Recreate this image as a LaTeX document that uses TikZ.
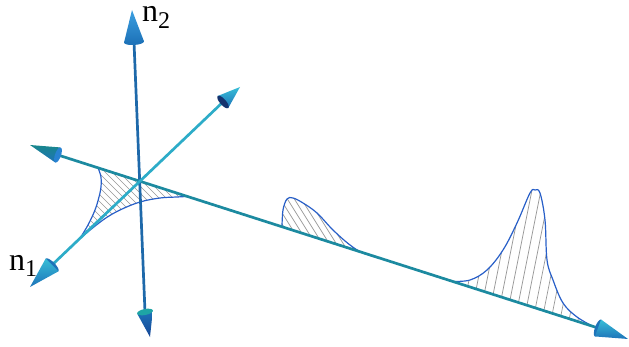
\documentclass[tikz,border=0pt]{standalone}
\usepackage{fontspec}
\setmainfont{Liberation Serif}
\usetikzlibrary{calc,shapes.geometric}
\definecolor{axlong}{RGB}{28,138,160}
\definecolor{axtwo}{RGB}{30,105,170}
\definecolor{axone}{RGB}{45,172,200}
\definecolor{curvec}{RGB}{40,95,200}
\definecolor{hatchc}{RGB}{150,150,150}
\definecolor{cyanL}{RGB}{55,190,215}
\definecolor{blueM}{RGB}{30,115,185}
\definecolor{blueD}{RGB}{22,70,150}
\definecolor{blueT}{RGB}{60,160,225}
\definecolor{tealC}{RGB}{30,165,165}
\definecolor{navyC}{RGB}{20,50,110}
\definecolor{tealG}{RGB}{25,135,140}
\definecolor{blueB}{RGB}{40,130,210}
\newcommand\conetri[5]{\shade[top color=#4,bottom color=#5] (#1) -- ($(#2)!#3!90:(#1)$) -- ($(#2)!#3!-90:(#1)$) -- cycle;}
\newcommand\conebase[4]{\path let \p1=($(#1)-(#2)$), \n1={atan2(\y1,\x1)} in node[ellipse, fill=#4, inner sep=0pt, minimum width=6pt, minimum height=#3*2, rotate=\n1] at (#2) {};}
\begin{document}
\begin{tikzpicture}[x=1pt,y=-1pt,
  axisline/.style={line width=2.7pt},
  curveline/.style={curvec, line width=1.2pt},
  hatchline/.style={hatchc, line width=0.7pt},
  lbl/.style={inner sep=0pt, anchor=base west, font=\fontsize{32}{32}\selectfont}]
\useasboundingbox (0,0) rectangle (629,347);
% axis points
\coordinate (LT) at (30,145);  \coordinate (LB) at (58,155);
\coordinate (RT) at (628,339); \coordinate (RB) at (598,328);
\coordinate (UT) at (132,10);  \coordinate (UB) at (134,42);
\coordinate (DT) at (150,337); \coordinate (DB) at (145,312);
\coordinate (ET) at (240,87);  \coordinate (EB) at (223,102);
\coordinate (WT) at (30,287);  \coordinate (WB) at (52,265);
% region near origin
\begin{scope}
\clip plot[smooth,tension=0.6] coordinates {(98,167.8) (101,177) (101,187) (99,197) (95,210) (88,225) (80,238.3)}
  -- plot[smooth,tension=0.6] coordinates {(80,238.3) (103,220) (120,210) (140,202) (160,198) (177,197) (188,196.4)} -- cycle;
\foreach \s in {-60,-53,...,200} \draw[hatchline] (\s,140) -- ++(110,110);
\end{scope}
\draw[curveline] plot[smooth,tension=0.6] coordinates {(98,167.8) (101,177) (101,187) (99,197) (95,210) (88,225) (80,238.3)};
\draw[curveline] plot[smooth,tension=0.6] coordinates {(80,238.3) (103,220) (120,210) (140,202) (160,198) (177,197) (188,196.4)};
% bump 1
\begin{scope}
\clip plot[smooth,tension=0.6] coordinates {(282,226.9) (283,210) (287,199) (293,198) (303,203) (317,213) (333,230) (350,245) (363,253) (380,258.4)} -- cycle;
\foreach \s in {200,207,...,400} \draw[hatchline] (\s,160) -- ++(75,120);
\end{scope}
\draw[curveline] plot[smooth,tension=0.6] coordinates {(282,226.9) (283,210) (287,199) (293,198) (303,203) (317,213) (333,230) (350,245) (363,253) (380,258.4)};
% bump 2
\begin{scope}
\clip plot[smooth,tension=0.6] coordinates {(452,281.4) (470,280) (487,270) (503,250) (517,223) (530,193) (535,190) (540,193) (545,220) (547,260) (553,280) (563,303) (577,317) (595,327.4)} -- cycle;
\foreach \s in {430,439,...,620} \draw[hatchline] (\s,340) -- ++(34,-170);
\end{scope}
\draw[curveline] plot[smooth,tension=0.6] coordinates {(452,281.4) (470,280) (487,270) (503,250) (517,223) (530,193) (535,190) (540,193) (545,220) (547,260) (553,280) (563,303) (577,317) (595,327.4)};
% axes
\draw[axisline, axlong] (LB) -- (RB);
\draw[axisline, axtwo] (UB) -- (DB);
\draw[axisline, axone] (EB) -- (WB);
% cones
\conebase{UT}{UB}{10pt}{blueM}\conetri{UT}{UB}{10pt}{blueT}{blueM}
\conetri{DT}{DB}{8pt}{blueM}{blueD}\conebase{DT}{DB}{8pt}{tealC}
\conetri{ET}{EB}{8pt}{cyanL}{blueM}\conebase{ET}{EB}{8pt}{navyC}
\conebase{WT}{WB}{9pt}{blueM}\conetri{WT}{WB}{9pt}{cyanL}{blueM}
\conetri{LT}{LB}{8pt}{tealG}{blueM}\conebase{LT}{LB}{8pt}{blueB}
\conebase{RT}{RB}{9pt}{blueM}\conetri{RT}{RB}{9pt}{cyanL}{blueM}
% labels
\node[lbl] (n2) at (142,22) {n\raisebox{-7pt}{\fontsize{24}{24}\selectfont 2}};
\node[lbl] (n1) at (9,271) {n\raisebox{-6pt}{\fontsize{24}{24}\selectfont 1}};
\end{tikzpicture}
\end{document}
